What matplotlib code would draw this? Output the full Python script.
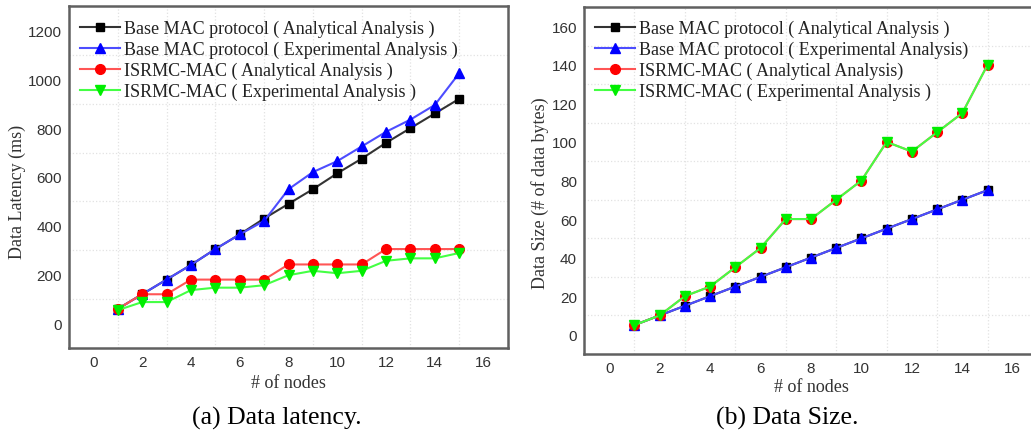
import numpy as np
import matplotlib
matplotlib.use("Agg")
import matplotlib.pyplot as plt
from matplotlib.ticker import FixedLocator, MultipleLocator

# number of nodes
nodes = np.arange(1, 16)

# (a) data latency in ms
lat_base_ana = [60, 120, 180, 240, 305, 365, 430, 490, 550, 615, 675, 740, 800, 860, 920]
lat_base_exp = [60, 120, 180, 240, 305, 365, 420, 550, 620, 665, 725, 785, 835, 895, 1025]
lat_isrmc_ana = [60, 120, 120, 180, 180, 180, 180, 242, 242, 242, 242, 305, 305, 305, 305]
lat_isrmc_exp = [55, 88, 88, 137, 147, 147, 157, 198, 216, 206, 216, 257, 267, 267, 289]

# (b) data size in bytes
size_base_ana = [5, 10, 15, 20, 25, 30, 35, 40, 45, 50, 55, 60, 65, 70, 75]
size_base_exp = [5, 10, 15, 20, 25, 30, 35, 40, 45, 50, 55, 60, 65, 70, 75]
size_isrmc_ana = [5, 10, 20, 25, 35, 45, 60, 60, 70, 80, 100, 95, 105, 115, 140]
size_isrmc_exp = [5, 10, 20, 25, 35, 45, 60, 60, 70, 80, 100, 95, 105, 115, 140]

labels_a = ["Base MAC protocol ( Analytical Analysis )",
            "Base MAC protocol ( Experimental Analysis )",
            "ISRMC-MAC ( Analytical Analysis )",
            "ISRMC-MAC ( Experimental Analysis )"]
labels_b = ["Base MAC protocol ( Analytical Analysis )",
            "Base MAC protocol ( Experimental Analysis)",
            "ISRMC-MAC ( Analytical Analysis)",
            "ISRMC-MAC ( Experimental Analysis )"]

serif = ["Liberation Serif", "DejaVu Serif"]
sans = ["Liberation Sans", "DejaVu Sans"]

fig = plt.figure(figsize=(10.31, 4.31), dpi=100)
W, H = 1031, 431


def px_axes(l, t, r, b):
    return fig.add_axes([l / W, 1 - b / H, (r - l) / W, (b - t) / H])


styles = [
    dict(color="#333333", marker="s", mfc="black", mec="black", ms=6),
    dict(color="#4d4dff", marker="^", mfc="blue", mec="blue", ms=7),
    dict(color="#ff5555", marker="o", mfc="red", mec="red", ms=7),
    dict(color="#44ff44", marker="v", mfc="#00ee00", mec="#00ee00", ms=7),
]


def draw(ax, series, labels, ylim, ystep, leg_anchor):
    for ys, lab, st in zip(series, labels, styles):
        ax.plot(nodes, ys, lw=1.5, label=lab, **st)
    ax.set_xlim(-1, 17)
    ax.set_ylim(*ylim)
    ax.xaxis.set_major_locator(MultipleLocator(2))
    ax.yaxis.set_major_locator(MultipleLocator(ystep))
    ax.xaxis.set_minor_locator(FixedLocator(np.arange(1, 17, 2)))
    ax.yaxis.set_minor_locator(FixedLocator(np.arange(ylim[0] + ystep, ylim[1], ystep)))
    ax.grid(which="minor", color="#e2e2e2", lw=0.9, ls=":")
    ax.tick_params(which="both", length=0, labelsize=11, labelcolor="#333333", pad=5)
    for lab in ax.get_xticklabels() + ax.get_yticklabels():
        lab.set_family(sans)
    for sp in ax.spines.values():
        sp.set_color("#606060")
        sp.set_linewidth(1.8)
    ax.legend(loc="upper left", bbox_to_anchor=leg_anchor, frameon=False,
              borderaxespad=0, borderpad=0, handlelength=2.2, handletextpad=0.25,
              labelspacing=0.21, prop=dict(family=serif, size=13),
              labelcolor="#222222")


ax1 = px_axes(69, 7, 508, 349)
draw(ax1, [lat_base_ana, lat_base_exp, lat_isrmc_ana, lat_isrmc_exp], labels_a,
     (-100, 1300), 200, (0.025, 0.96))
ax1.set_xlabel("# of nodes", family=serif, fontsize=13, color="#333333", labelpad=4)

ax2 = px_axes(584, 8, 1038, 355)
draw(ax2, [size_base_ana, size_base_exp, size_isrmc_ana, size_isrmc_exp], labels_b,
     (-10, 170), 20, (0.024, 0.963))
ax2.set_xlabel("# of nodes", family=serif, fontsize=13, color="#333333", labelpad=2)

fig.text(17 / W, 1 - 192 / H, "Data Latency (ms)", rotation=90, ha="center", va="center",
         family=serif, fontsize=13, color="#333333")
fig.text(540 / W, 1 - 193 / H, "Data Size (# of data bytes)", rotation=90, ha="center",
         va="center", family=serif, fontsize=13, color="#333333")

fig.text(277 / W, 1 - 418 / H, "(a) Data latency.", ha="center", va="center",
         family=serif, fontsize=18.5, color="black")
fig.text(787 / W, 1 - 418 / H, "(b) Data Size.", ha="center", va="center",
         family=serif, fontsize=18.5, color="black")

fig.savefig("out.png", dpi=100)
